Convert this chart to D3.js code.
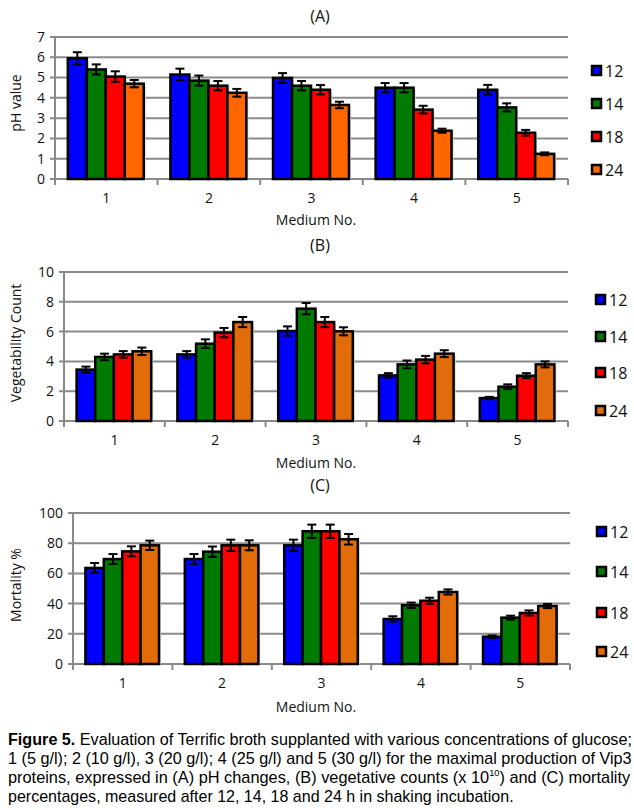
<!DOCTYPE html>
<html>
<head>
<meta charset="utf-8">
<script src="https://cdn.jsdelivr.net/npm/d3@7"></script>
<style>
  html, body { margin: 0; padding: 0; background: #fff; }
  svg { display: block; }
</style>
</head>
<body>
<svg id="fig" width="634" height="810"></svg>
<script>
// ---------------- DATA ----------------
const categories = ["1", "2", "3", "4", "5"];
const seriesNames = ["12", "14", "18", "24"];

// (A) pH value, rows = medium, cols = 12/14/18/24 h
const phValues = [
  [5.95, 5.4, 5.05, 4.7],
  [5.15, 4.85, 4.6, 4.25],
  [4.98, 4.6, 4.4, 3.65],
  [4.5, 4.5, 3.42, 2.38],
  [4.4, 3.53, 2.28, 1.24]
];
const phErrors = [
  [0.3, 0.25, 0.26, 0.18],
  [0.29, 0.25, 0.23, 0.19],
  [0.24, 0.23, 0.23, 0.16],
  [0.23, 0.23, 0.19, 0.1],
  [0.24, 0.2, 0.14, 0.07]
];
const phTicks = [0, 1, 2, 3, 4, 5, 6, 7];

// (B) vegetability count
const vegValues = [
  [3.45, 4.3, 4.47, 4.68],
  [4.47, 5.19, 5.93, 6.64],
  [6.04, 7.54, 6.64, 6.02],
  [3.06, 3.8, 4.12, 4.52],
  [1.54, 2.3, 3.04, 3.8]
];
const vegErrors = [
  [0.2, 0.22, 0.22, 0.25],
  [0.22, 0.29, 0.31, 0.34],
  [0.31, 0.38, 0.34, 0.27],
  [0.15, 0.26, 0.25, 0.23],
  [0.08, 0.16, 0.17, 0.2]
];
const vegTicks = [0, 2, 4, 6, 8, 10];

// (C) mortality %
const mortValues = [
  [63.6, 69.5, 74.6, 78.6],
  [69.5, 74.4, 78.6, 78.6],
  [78.6, 87.9, 87.9, 82.6],
  [29.8, 38.9, 41.9, 47.7],
  [18.1, 30.7, 33.8, 38.4]
];
const mortErrors = [
  [3.3, 3.3, 3.3, 3.1],
  [3.3, 3.4, 3.75, 3.3],
  [3.75, 4.4, 4.4, 3.5],
  [1.8, 1.8, 2.0, 1.7],
  [0.8, 1.3, 1.7, 1.4]
];
const mortTicks = [0, 20, 40, 60, 80, 100];

const colorsA = ["#0000ff", "#007a00", "#ff0000", "#ff6600"];
const colorsBC = ["#0000ff", "#007a00", "#ff0000", "#e36c0a"];

// ---------------- DRAW ----------------
const svg = d3.select("#fig");
const FONT = "'Open Sans', 'DejaVu Sans', sans-serif";

function drawChart(cfg) {
  const g = svg.append("g");
  const x0 = d3.scaleBand().domain(categories).range([cfg.left, cfg.right]).padding(0);
  const bw = x0.bandwidth();
  const x1 = d3.scaleBand().domain(seriesNames)
    .range([bw * 0.125, bw * 0.865]).padding(0);
  const y = d3.scaleLinear().domain([0, cfg.max]).range([cfg.bottom, cfg.top]);

  // title
  g.append("text").attr("x", 320).attr("y", cfg.titleY)
    .attr("text-anchor", "middle").attr("font-family", FONT)
    .attr("font-size", 16).attr("fill", "#111").text(cfg.title);

  // gridlines
  g.append("g").selectAll("line").data(cfg.ticks).join("line")
    .attr("x1", cfg.left - 5).attr("x2", cfg.right)
    .attr("y1", d => y(d)).attr("y2", d => y(d))
    .attr("stroke", "#8a8a8a").attr("stroke-width", 2);

  // y axis line
  g.append("line").attr("x1", cfg.left).attr("x2", cfg.left)
    .attr("y1", cfg.top).attr("y2", cfg.bottom + 5)
    .attr("stroke", "#8a8a8a").attr("stroke-width", 2);

  // y tick labels
  g.append("g").selectAll("text").data(cfg.ticks).join("text")
    .attr("x", cfg.left - 10).attr("y", d => y(d))
    .attr("dy", "0.35em").attr("text-anchor", "end")
    .attr("font-family", FONT).attr("font-size", 14).attr("fill", "#111")
    .text(d => d);

  // x tick marks at band boundaries
  const bounds = categories.map(c => x0(c)).concat([cfg.right]);
  g.append("g").selectAll("line").data(bounds).join("line")
    .attr("x1", d => d).attr("x2", d => d)
    .attr("y1", cfg.bottom).attr("y2", cfg.bottom + 6)
    .attr("stroke", "#8a8a8a").attr("stroke-width", 2);

  // category labels
  g.append("g").selectAll("text").data(categories).join("text")
    .attr("x", d => x0(d) + bw / 2).attr("y", cfg.bottom + 24)
    .attr("text-anchor", "middle").attr("font-family", FONT)
    .attr("font-size", 14).attr("fill", "#111").text(d => d);

  // x axis title
  g.append("text").attr("x", 316).attr("y", cfg.xTitleY)
    .attr("text-anchor", "middle").attr("font-family", FONT)
    .attr("font-size", 14).attr("fill", "#111").text("Medium No.");

  // y axis title
  g.append("text")
    .attr("transform", `translate(${cfg.yTitleX},${cfg.yTitleCY}) rotate(-90)`)
    .attr("text-anchor", "middle").attr("font-family", FONT)
    .attr("font-size", 14).attr("fill", "#111").text(cfg.yTitle);

  // bars
  const groups = g.append("g").selectAll("g").data(cfg.values).join("g")
    .attr("transform", (d, i) => `translate(${x0(categories[i])},0)`);

  // shadows
  groups.selectAll("rect.sh").data(d => d).join("rect").attr("class", "sh")
    .attr("x", (d, j) => x1(seriesNames[j]) + 2)
    .attr("y", d => y(d) + 2)
    .attr("width", x1.bandwidth())
    .attr("height", d => cfg.bottom - y(d) - 2)
    .attr("fill", "#d8d8d8");

  groups.selectAll("rect.bar").data(d => d).join("rect").attr("class", "bar")
    .attr("x", (d, j) => x1(seriesNames[j]))
    .attr("y", d => y(d))
    .attr("width", x1.bandwidth())
    .attr("height", d => cfg.bottom - y(d))
    .attr("fill", (d, j) => cfg.colors[j])
    .attr("stroke", "#000").attr("stroke-width", 2.5);

  // error bars
  const errG = g.append("g");
  cfg.values.forEach((row, i) => {
    row.forEach((v, j) => {
      const e = cfg.errors[i][j];
      const cx = x0(categories[i]) + x1(seriesNames[j]) + x1.bandwidth() / 2;
      const y1 = y(v + e), y2 = y(v - e);
      errG.append("line").attr("x1", cx).attr("x2", cx).attr("y1", y1).attr("y2", y2)
        .attr("stroke", "#000").attr("stroke-width", 2);
      [y1, y2].forEach(yy => errG.append("line")
        .attr("x1", cx - 4.5).attr("x2", cx + 4.5).attr("y1", yy).attr("y2", yy)
        .attr("stroke", "#000").attr("stroke-width", 2));
    });
  });

  // legend
  const lg = g.append("g").selectAll("g").data(seriesNames).join("g")
    .attr("transform", (d, j) => `translate(${cfg.legendX},${cfg.legendY[j]})`);
  lg.append("rect").attr("x", 1).attr("y", -5).attr("width", 9).attr("height", 9)
    .attr("fill", (d, j) => cfg.colors[j]).attr("stroke", "#000").attr("stroke-width", 2.5);
  lg.append("text").attr("x", 14).attr("y", 0).attr("dy", "0.36em")
    .attr("font-family", FONT).attr("font-size", 16).attr("fill", "#111").text(d => d);
}

drawChart({
  title: "(A)", titleY: 22, left: 55, right: 568, top: 37, bottom: 179, max: 7,
  ticks: phTicks, values: phValues, errors: phErrors, colors: colorsA,
  xTitleY: 225, yTitle: "pH value", yTitleX: 21, yTitleCY: 103,
  legendX: 591, legendY: [71, 104, 137, 170]
});

drawChart({
  title: "(B)", titleY: 251, left: 64, right: 568, top: 272, bottom: 421, max: 10,
  ticks: vegTicks, values: vegValues, errors: vegErrors, colors: colorsBC,
  xTitleY: 468, yTitle: "Vegetability Count", yTitleX: 21, yTitleCY: 343,
  legendX: 595, legendY: [300, 337, 373, 411]
});

drawChart({
  title: "(C)", titleY: 491, left: 73, right: 570, top: 513, bottom: 664, max: 100,
  ticks: mortTicks, values: mortValues, errors: mortErrors, colors: colorsBC,
  xTitleY: 712, yTitle: "Mortality %", yTitleX: 21, yTitleCY: 585,
  legendX: 596, legendY: [532, 572, 613, 652]
});

// ---------------- CAPTION ----------------
const capFont = "'Liberation Sans', Arial, sans-serif";
const capLines = [
  { y: 745, target: 624, parts: [
    { t: "Figure 5.", b: true },
    { t: " Evaluation of Terrific broth supplanted with various concentrations of glucose;" }] },
  { y: 764, target: 624, parts: [
    { t: "1 (5 g/l); 2 (10 g/l), 3 (20 g/l); 4 (25 g/l) and 5 (30 g/l) for the maximal production of Vip3" }] },
  { y: 783, target: 623, parts: [
    { t: "proteins, expressed in (A) pH changes, (B) vegetative counts (x 10" },
    { t: "10", sup: true },
    { t: ") and (C) mortality" }] },
  { y: 802, target: 506, parts: [
    { t: "percentages, measured after 12, 14, 18 and 24 h in shaking incubation." }] }
];
capLines.forEach(line => {
  const t = svg.append("text").attr("x", 0).attr("y", 0)
    .attr("font-family", capFont).attr("font-size", 16).attr("fill", "#000")
    .style("white-space", "pre").attr("xml:space", "preserve");
  line.parts.forEach(p => {
    const ts = t.append("tspan").text(p.t);
    if (p.b) ts.attr("font-weight", "bold");
    if (p.sup) ts.attr("font-size", 9).attr("baseline-shift", "7");
  });
  const w = t.node().getBBox().width;
  t.attr("transform", `translate(8,${line.y}) scale(${line.target / w},1)`);
});
</script>
</body>
</html>
